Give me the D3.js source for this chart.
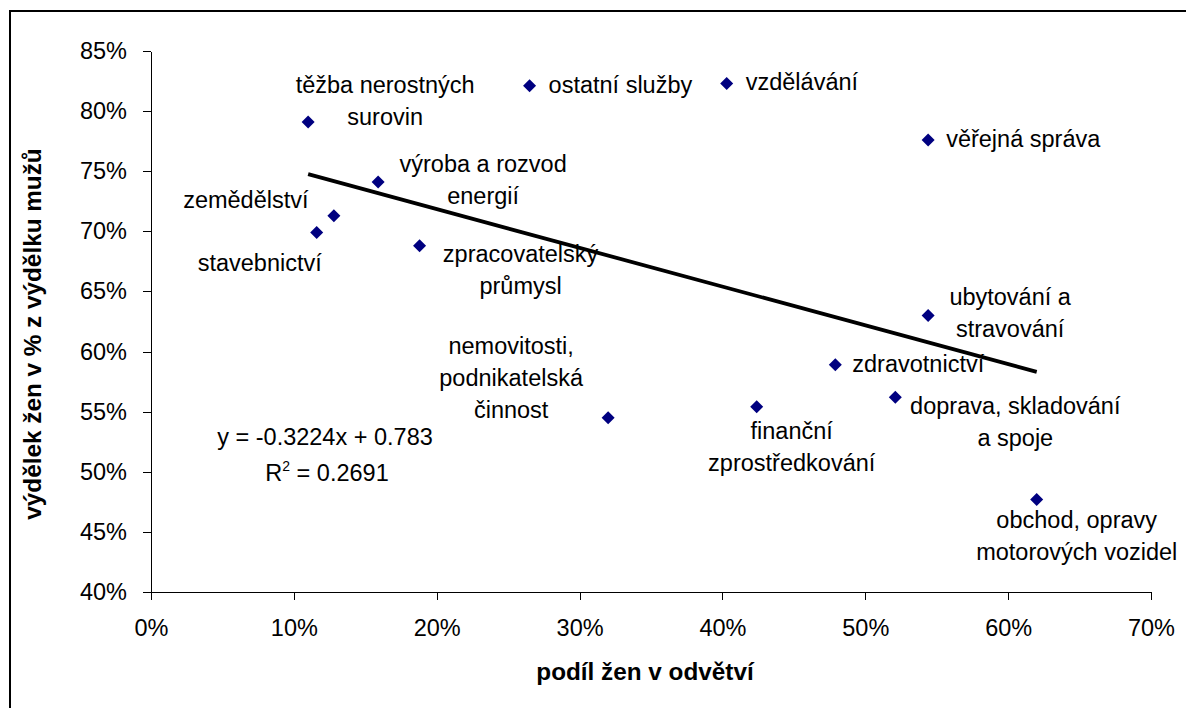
<!DOCTYPE html>
<html lang="cs">
<head>
<meta charset="UTF-8">
<title>Výdělek žen podle odvětví</title>
<script src="https://d3js.org/d3.v7.min.js"></script>
<style>
    html, body { margin: 0; padding: 0; background: #fff; overflow: hidden; }
    svg { display: block; font-family: "Liberation Sans", Arial, sans-serif; }
    .axis path, .axis line { stroke: #000; shape-rendering: crispEdges; }
    .axis text { font-size: 23.5px; fill: #000; font-family: "Liberation Sans", Arial, sans-serif; }
    .lbl { font-size: 23.5px; fill: #000; }
    .title { font-size: 24.3px; font-weight: bold; fill: #000; }
</style>
</head>
<body>
<svg width="1186" height="708"></svg>
<script>
// odvětví (popisky, \n = zalomení řádku jako v grafu)
const sectors = [
    "těžba nerostných\nsurovin",
    "zemědělství",
    "stavebnictví",
    "výroba a rozvod\nenergií",
    "zpracovatelský\nprůmysl",
    "ostatní služby",
    "vzdělávání",
    "věřejná správa",
    "ubytování a\nstravování",
    "zdravotnictví",
    "doprava, skladování\na spoje",
    "nemovitosti,\npodnikatelská\nčinnost",
    "finanční\nzprostředkování",
    "obchod, opravy\nmotorových vozidel"
];
// podíl žen v odvětví
const shareWomen = [0.110, 0.128, 0.116, 0.159, 0.188, 0.265, 0.403, 0.544, 0.544, 0.479, 0.521, 0.320, 0.424, 0.620];
// výdělek žen v % z výdělku mužů
const payRatio   = [0.791, 0.713, 0.699, 0.741, 0.688, 0.821, 0.823, 0.776, 0.630, 0.589, 0.562, 0.545, 0.554, 0.477];

// lineární trend (z rovnice v grafu)
const slope = -0.3224, intercept = 0.783, r2 = 0.2691;

const xTicks = [0, 0.1, 0.2, 0.3, 0.4, 0.5, 0.6, 0.7];
const yTicks = [0.40, 0.45, 0.50, 0.55, 0.60, 0.65, 0.70, 0.75, 0.80, 0.85];

// umístění popisků vůči bodu: zarovnání, posun x, posun první účaří
const labelPlace = [
    ["middle", 77, -29], ["middle", -88, -8], ["middle", -57, 38], ["middle", 105, -10],
    ["middle", 101, 16], ["start", 19, 7], ["start", 19, 7], ["start", 18, 7],
    ["middle", 82, -10], ["start", 17, 7], ["middle", 120, 17], ["middle", -97, -64],
    ["middle", 35, 32], ["middle", 40, 29]
];
const lineH = 32;

const svg = d3.select("svg");

// rámeček grafu
svg.append("rect")
    .attr("x", 10).attr("y", 11)
    .attr("width", 1300).attr("height", 800)
    .attr("fill", "none").attr("stroke", "#000").attr("stroke-width", 2);

const x = d3.scaleLinear().domain([0, 0.7]).range([151, 1151]);
const y = d3.scaleLinear().domain([0.40, 0.85]).range([592, 51]);
const pct = d3.format(".0%");

svg.append("g")
    .attr("class", "axis")
    .attr("transform", "translate(0,592)")
    .call(d3.axisBottom(x).tickValues(xTicks).tickFormat(pct).tickSizeInner(8).tickSizeOuter(0).tickPadding(19));

svg.append("g")
    .attr("class", "axis")
    .attr("transform", "translate(151,0)")
    .call(d3.axisLeft(y).tickValues(yTicks).tickFormat(pct).tickSizeInner(8).tickSizeOuter(0).tickPadding(16));

// popisky os
svg.append("text")
    .attr("class", "title")
    .attr("x", 645).attr("y", 680)
    .attr("text-anchor", "middle")
    .text("podíl žen v odvětví");

svg.append("text")
    .attr("class", "title")
    .attr("transform", "translate(41,334) rotate(-90)")
    .attr("text-anchor", "middle")
    .text("výdělek žen v % z výdělku mužů");

// spojnice trendu
const xr = d3.extent(shareWomen);
svg.append("line")
    .attr("x1", x(xr[0])).attr("y1", y(slope * xr[0] + intercept))
    .attr("x2", x(xr[1])).attr("y2", y(slope * xr[1] + intercept))
    .attr("stroke", "#000").attr("stroke-width", 3.8);

// body
const pts = sectors.map((s, i) => ({ name: s, sx: shareWomen[i], sy: payRatio[i], place: labelPlace[i] }));
const diamond = "M0,-6.5L6.5,0L0,6.5L-6.5,0Z";

svg.append("g").selectAll("path")
    .data(pts)
    .join("path")
    .attr("d", diamond)
    .attr("fill", "#000080")
    .attr("transform", d => `translate(${x(d.sx)},${y(d.sy)})`);

// popisky bodů
const lbl = svg.append("g").selectAll("text")
    .data(pts)
    .join("text")
    .attr("class", "lbl")
    .attr("text-anchor", d => d.place[0]);

lbl.each(function (d) {
    const t = d3.select(this);
    d.name.split("\n").forEach((line, k) => {
        t.append("tspan")
            .attr("x", x(d.sx) + d.place[1])
            .attr("y", y(d.sy) + d.place[2] + k * lineH)
            .text(line);
    });
});

// rovnice trendu
const eq = svg.append("text").attr("class", "lbl").attr("text-anchor", "middle");
eq.append("tspan").attr("x", 325).attr("y", 445)
    .text(`y = ${slope}x + ${intercept}`);
const r = svg.append("text").attr("class", "lbl").attr("text-anchor", "middle")
    .attr("x", 327).attr("y", 481);
r.append("tspan").text("R");
r.append("tspan").attr("dy", -10).style("font-size", "14px").text("2");
r.append("tspan").attr("dy", 10).text(` = ${r2}`);
</script>
</body>
</html>
